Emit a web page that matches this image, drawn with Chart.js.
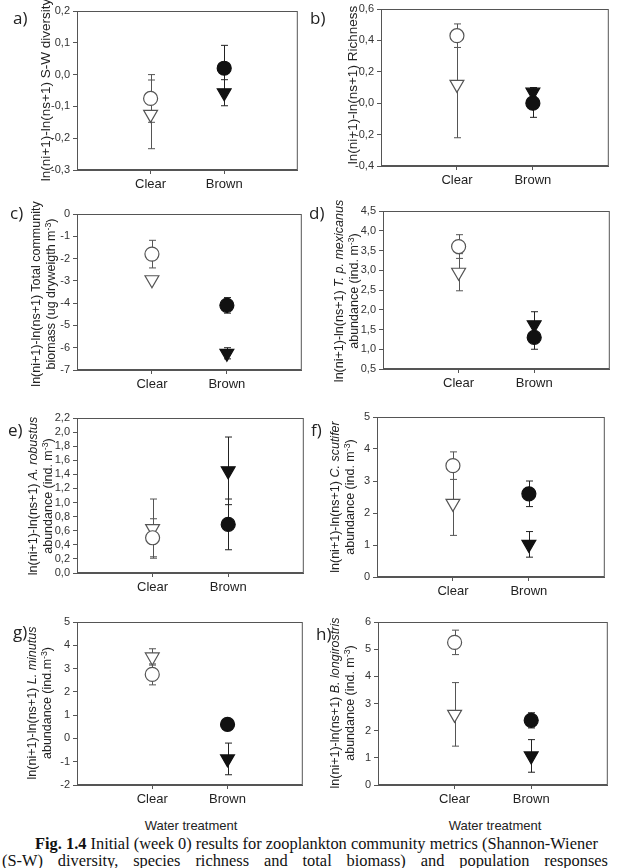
<!DOCTYPE html>
<html>
<head>
<meta charset="utf-8">
<script src="https://cdn.jsdelivr.net/npm/chart.js@4.4.0/dist/chart.umd.min.js"></script>
<style>
  body { margin: 0; background: #fff; width: 635px; height: 868px; position: relative; overflow: hidden; }
  canvas { position: absolute; }
  .lbl { position: absolute; font-family: "Open Sans", sans-serif; font-size: 17px; color: #222; }
  .ytitle { position: absolute; font-family: "Liberation Sans", Arial, sans-serif; font-size: 12.5px; color: #222;
            line-height: 15px; white-space: nowrap; text-align: center; transform: translate(-50%, -50%) rotate(-90deg); }
  .ytitle sup { font-size: 70%; vertical-align: 0.45em; line-height: 0; }
  .xtitle { position: absolute; font-family: "Liberation Sans", Arial, sans-serif; font-size: 13px; color: #222;
            transform: translate(-50%, -50%); white-space: nowrap; }
  .cap { position: absolute; font-family: "Liberation Serif", "Times New Roman", serif; font-size: 16.4px; color: #111;
         white-space: nowrap; line-height: 17px; }
  .just { text-align: justify; text-align-last: justify; }
</style>
</head>
<body>
<div class="xtitle" style="left:191px; top:825px;">Water treatment</div>
<div class="xtitle" style="left:495px; top:825px;">Water treatment</div>
<div class="cap" style="left:35px; top:835px;"><b>Fig. 1.4</b> Initial (week 0) results for zooplankton community metrics (Shannon-Wiener</div>
<div class="cap just" style="left:2px; width:606px; top:852px;">(S-W) diversity, species richness and total biomass) and population responses</div>
<script>
// categories and values (circle = first series, triangle = second)
const categories = ['Clear', 'Brown'];
const panelLabels = ['a)', 'b)', 'c)', 'd)', 'e)', 'f)', 'g)', 'h)'];
const circleMeans = [[-0.075, 0.02], [0.43, 0.0], [-1.8, -4.1], [3.6, 1.3], [0.5, 0.69], [3.48, 2.6], [2.75, 0.6], [5.25, 2.38]];
const circleErrors = [[0.075, 0.072], [0.075, 0.09], [0.62, 0.35], [0.3, 0.3], [0.27, 0.36], [0.43, 0.4], [0.45, 0.15], [0.45, 0.28]];
const triangleMeans = [[-0.125, -0.057], [0.12, 0.07], [-2.95, -6.25], [2.95, 1.62], [0.63, 1.45], [2.3, 1.02], [3.5, -0.88], [2.6, 1.07]];
const triangleErrors = [[0.108, 0.041], [0.34, 0.03], [0.05, 0.25], [0.47, 0.33], [0.42, 0.48], [1.0, 0.4], [0.35, 0.68], [1.17, 0.6]];
const yMin = [-0.3, -0.4, -7, 0.5, 0, 0, -2, 0];
const yMax = [0.2, 0.6, 0, 4.5, 2.2, 5, 5, 6];
const yStep = [0.1, 0.2, 1, 0.5, 0.2, 1, 1, 1];
const yDecimals = [1, 1, 0, 1, 1, 0, 0, 0];
const yTitles = [
  'ln(ni+1)-ln(ns+1) S-W diversity',
  'ln(ni+1)-ln(ns+1) Richness',
  'ln(ni+1)-ln(ns+1) Total community<br>biomass (ug dryweigth m<sup>-3</sup>)',
  'ln(ni+1)-ln(ns+1) <i>T. p. mexicanus</i><br>abundance (ind. m<sup>-3</sup>)',
  'ln(ni+1)-ln(ns+1) <i>A. robustus</i><br>abundance (ind. m<sup>-3</sup>)',
  'ln(ni+1)-ln(ns+1) <i>C. scutifer</i><br>abundance (ind. m<sup>-3</sup>)',
  'ln(ni+1)-ln(ns+1) <i>L. minutus</i><br>abundance (ind.m<sup>-3</sup>)',
  'ln(ni+1)-ln(ns+1) <i>B. longirostris</i><br>abundance (ind. m<sup>-3</sup>)'
];

// layout: plot boxes [left, top, right, bottom], title centre and size, panel letter position
const boxes = [[77, 11, 301, 170], [381, 9, 612, 166], [77, 214, 305, 370], [383, 211, 613, 369],
               [77, 418, 307, 573], [377, 417, 608, 577], [77, 622, 306, 785], [378, 622, 611, 785]];
const titlePos = [[45, 90], [352, 85], [44, 294], [347, 291], [41, 496], [343, 497], [40, 703], [343, 703]];
const titleSize = [13.5, 13.5, 12.5, 12.5, 12.5, 12.5, 12.5, 12.5];
const letterPos = [[13, 6], [310, 6], [10, 201], [309, 201], [8, 418], [311, 418], [13, 620], [316, 622]];

const errorBars = {
  id: 'errorBars',
  beforeDatasetsDraw(chart) {
    const ctx = chart.ctx, xs = chart.scales.x, ys = chart.scales.y;
    const a = chart.chartArea;
    ctx.save();
    ctx.strokeStyle = '#555';
    ctx.lineWidth = 1;
    ctx.strokeRect(a.left + 0.5, a.top + 0.5, a.right - a.left - 1, a.bottom - a.top - 1);
    chart.data.datasets.forEach(ds => {
      ds.data.forEach((p, i) => {
        const x = Math.round(xs.getPixelForValue(p.x)) + 0.5;
        const yTop = ys.getPixelForValue(p.y + ds.errors[i]);
        const yBot = ys.getPixelForValue(p.y - ds.errors[i]);
        ctx.strokeStyle = i === 0 ? '#555' : '#222';
        ctx.beginPath();
        ctx.moveTo(x, yTop); ctx.lineTo(x, yBot);
        ctx.moveTo(x - 3.5, yTop); ctx.lineTo(x + 3.5, yTop);
        ctx.moveTo(x - 3.5, yBot); ctx.lineTo(x + 3.5, yBot);
        ctx.stroke();
      });
    });
    ctx.restore();
  }
};

for (let p = 0; p < 8; p++) {
  const [l, t, r, b] = boxes[p];
  const padL = 40, padT = 10, padR = 6, padB = 30;
  const cv = document.createElement('canvas');
  cv.width = r - l + padL + padR;
  cv.height = b - t + padT + padB;
  cv.style.left = (l - padL) + 'px';
  cv.style.top = (t - padT) + 'px';
  document.body.appendChild(cv);

  const title = document.createElement('div');
  title.className = 'ytitle';
  title.innerHTML = yTitles[p];
  title.style.left = titlePos[p][0] + 'px';
  title.style.top = titlePos[p][1] + 'px';
  title.style.fontSize = titleSize[p] + 'px';
  document.body.appendChild(title);

  const letter = document.createElement('div');
  letter.className = 'lbl';
  letter.textContent = panelLabels[p];
  letter.style.left = letterPos[p][0] + 'px';
  letter.style.top = letterPos[p][1] + 'px';
  document.body.appendChild(letter);

  new Chart(cv.getContext('2d'), {
    type: 'scatter',
    data: {
      datasets: [{
        data: categories.map((c, i) => ({ x: i + 1, y: circleMeans[p][i] })),
        errors: circleErrors[p],
        pointStyle: 'circle',
        pointRadius: 7,
        pointBackgroundColor: ['#fff', '#111'],
        pointBorderColor: ['#555', '#111'],
        pointBorderWidth: 1.2
      }, {
        data: categories.map((c, i) => ({ x: i + 1, y: triangleMeans[p][i] })),
        errors: triangleErrors[p],
        pointStyle: 'triangle',
        pointRotation: 180,
        pointRadius: 8,
        pointBackgroundColor: ['#fff', '#111'],
        pointBorderColor: ['#555', '#111'],
        pointBorderWidth: 1.2
      }]
    },
    options: {
      responsive: false,
      animation: false,
      devicePixelRatio: 1,
      layout: { padding: { top: padT, right: padR, left: 0, bottom: 0 } },
      plugins: { legend: { display: false }, tooltip: { enabled: false } },
      scales: {
        x: {
          type: 'linear', min: 0, max: 3,
          afterBuildTicks: s => { s.ticks = [{ value: 1 }, { value: 2 }]; },
          afterFit: s => { s.height = padB; },
          ticks: { callback: v => categories[v - 1], color: '#222', padding: 3,
                   font: { family: 'Liberation Sans', size: 13 }, maxRotation: 0, autoSkip: false },
          grid: { drawOnChartArea: false, drawTicks: true, tickLength: 4, color: '#555' },
          border: { color: '#555' }
        },
        y: {
          min: yMin[p], max: yMax[p],
          afterFit: s => { s.width = padL; },
          ticks: { stepSize: yStep[p], color: '#333', padding: 3, autoSkip: false,
                   font: { family: 'Liberation Sans', size: 11 },
                   callback: v => v.toFixed(yDecimals[p]).replace('.', ',') },
          grid: { drawOnChartArea: false, drawTicks: true, tickLength: 4, color: '#555' },
          border: { color: '#555' }
        }
      }
    },
    plugins: [errorBars]
  });
}
</script>
</body>
</html>
